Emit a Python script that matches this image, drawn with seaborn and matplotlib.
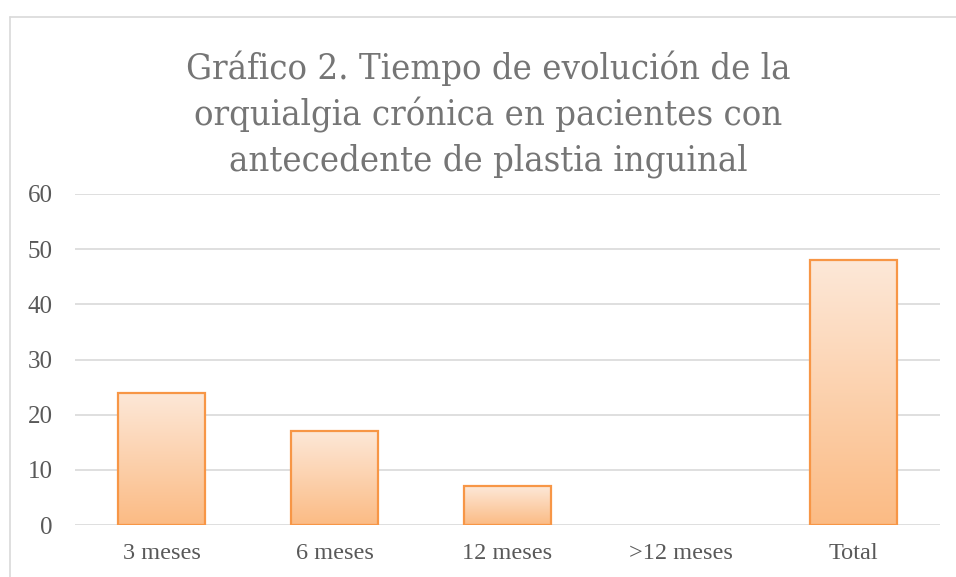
import numpy as np
import pandas as pd
import seaborn as sns
import matplotlib.pyplot as plt
from matplotlib.lines import Line2D
from matplotlib.colors import LinearSegmentedColormap

# datos del gráfico
categorias = ["3 meses", "6 meses", "12 meses", ">12 meses", "Total"]
pacientes = [24, 17, 7, 0, 48]
ticks_y = [0, 10, 20, 30, 40, 50, 60]
titulo = ("Gráfico 2. Tiempo de evolución de la\n"
          "orquialgia crónica en pacientes con\n"
          "antecedente de plastia inguinal")

df = pd.DataFrame({"tiempo": categorias, "pacientes": pacientes})

sns.set_theme(style="white")
plt.rcParams["font.family"] = ["Liberation Serif", "DejaVu Serif"]

fig = plt.figure(figsize=(9.56, 5.77), dpi=100)
ax = fig.add_axes([75 / 956, 1 - 525 / 577, 865 / 956, (525 - 194) / 577])

sns.barplot(data=df, x="tiempo", y="pacientes", ax=ax, color="#FBBE87",
            edgecolor="#F79646", linewidth=1.6, width=0.5, zorder=3)

# relleno degradado dentro de cada barra
cmap = LinearSegmentedColormap.from_list("naranja", ["#FBBB84", "#FDE8D8"])
grad = np.linspace(0, 1, 256).reshape(-1, 1)
for p in ax.patches:
    x0, y0 = p.get_x(), p.get_y()
    w, h = p.get_width(), p.get_height()
    if h <= 0:
        p.set_visible(False)
        continue
    ax.imshow(grad, extent=[x0, x0 + w, y0, y0 + h], origin="lower",
              aspect="auto", cmap=cmap, zorder=2, interpolation="bilinear")
    p.set_facecolor("none")

ax.set_xlim(-0.5, len(categorias) - 0.5)
ax.set_ylim(0, 60)
ax.set_yticks(ticks_y)
ax.yaxis.grid(True, color="#D9D9D9", linewidth=1.2, zorder=0)
ax.set_axisbelow(True)
sns.despine(ax=ax, left=True, bottom=True, top=True, right=True)
ax.set_xlabel("")
ax.set_ylabel("")
ax.tick_params(axis="y", length=0, pad=16, labelsize=18, labelcolor="#595959")
ax.tick_params(axis="x", length=0, pad=13, labelsize=17.5, labelcolor="#595959")

fig.text(0.511, 1 - 114 / 577, titulo, ha="center", va="center",
         fontsize=26, color="#757575", linespacing=1.38,
         family=["DejaVu Serif"], fontstretch="condensed")

# borde del área del gráfico
fig.add_artist(Line2D([9.5 / 956, 9.5 / 956], [0, 1 - 17 / 577],
                      transform=fig.transFigure, color="#D9D9D9", lw=1.2))
fig.add_artist(Line2D([9.5 / 956, 1], [1 - 17 / 577, 1 - 17 / 577],
                      transform=fig.transFigure, color="#D9D9D9", lw=1.2))

fig.savefig("out.png", dpi=100)
